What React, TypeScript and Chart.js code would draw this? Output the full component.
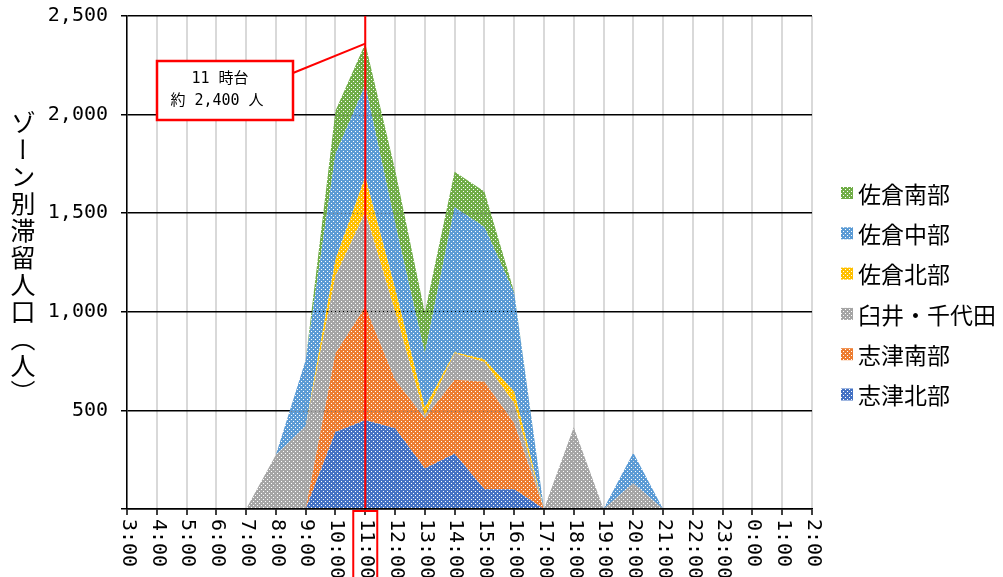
import { useEffect, useRef } from 'react';
import { Chart, registerables } from 'chart.js';

Chart.register(...registerables);

// Hour-of-day categories (3:00 through 2:00 the next day)
const hours = [
  '3:00', '4:00', '5:00', '6:00', '7:00', '8:00', '9:00', '10:00', '11:00', '12:00',
  '13:00', '14:00', '15:00', '16:00', '17:00', '18:00', '19:00', '20:00', '21:00',
  '22:00', '23:00', '0:00', '1:00', '2:00',
];

// Staying population per zone (people), stacked bottom to top
const shizuKita = [0, 0, 0, 0, 0, 0, 0, 390, 450, 410, 205, 280, 100, 100, 0, 0, 0, 0, 0, 0, 0, 0, 0, 0];
const shizuMinami = [0, 0, 0, 0, 0, 0, 0, 400, 575, 245, 255, 375, 545, 335, 0, 0, 0, 0, 0, 0, 0, 0, 0, 0];
const usuiChiyoda = [0, 0, 0, 0, 0, 275, 420, 390, 480, 345, 10, 135, 100, 100, 0, 415, 0, 130, 0, 0, 0, 0, 0, 0];
const sakuraKita = [0, 0, 0, 0, 0, 0, 0, 85, 180, 120, 45, 5, 15, 60, 0, 0, 0, 0, 0, 0, 0, 0, 0, 0];
const sakuraNaka = [0, 0, 0, 0, 0, 0, 335, 535, 465, 330, 275, 735, 670, 500, 0, 0, 0, 155, 0, 0, 0, 0, 0, 0];
const sakuraMinami = [0, 0, 0, 0, 0, 0, 0, 220, 210, 270, 205, 180, 180, 5, 0, 0, 0, 0, 0, 0, 0, 0, 0, 0];

const seriesNames = ['志津北部', '志津南部', '臼井・千代田', '佐倉北部', '佐倉中部', '佐倉南部'];
const seriesValues = [shizuKita, shizuMinami, usuiChiyoda, sakuraKita, sakuraNaka, sakuraMinami];
const seriesColors = ['#4472C4', '#ED7D31', '#A5A5A5', '#FFC000', '#5B9BD5', '#70AD47'];

// Value axis
const yTickValues = [0, 500, 1000, 1500, 2000, 2500];
const yTickLabels = ['', '500', '1,000', '1,500', '2,000', '2,500'];
const yTitle = 'ゾーン別滞留人口（人）';

// Highlighted hour and its callout caption
const peakHour = '11:00';
const peakCaption = '11 時台';

const MONO = "'DejaVu Sans Mono', 'Noto Sans CJK JP', sans-serif";
const CJK = "'Noto Sans CJK JP', sans-serif";

function makePattern(ctx: CanvasRenderingContext2D, color: string): CanvasPattern | string {
  const tile = document.createElement('canvas');
  tile.width = 4;
  tile.height = 4;
  const g = tile.getContext('2d');
  if (!g) return color;
  g.fillStyle = color;
  g.fillRect(0, 0, 4, 4);
  g.clearRect(1, 1, 1, 1);
  g.clearRect(3, 3, 1, 1);
  return ctx.createPattern(tile, 'repeat') || color;
}

export default function App() {
  const canvasRef = useRef<HTMLCanvasElement | null>(null);

  useEffect(() => {
    const canvas = canvasRef.current;
    if (!canvas) return;
    const ctx = canvas.getContext('2d');
    if (!ctx) return;

    const patterns = seriesColors.map((c) => makePattern(ctx, c));
    const peakIndex = hours.indexOf(peakHour);
    const peakTotal = seriesValues.reduce((s, arr) => s + arr[peakIndex], 0);
    const peakRounded = Math.round(peakTotal / 100) * 100;
    const peakLabel = `約 ${peakRounded.toLocaleString('en-US')} 人`;

    const overlay = {
      id: 'overlay',
      afterDatasetsDraw(chart: any) {
        const c = chart.ctx;
        const xs = chart.scales.x;
        const ys = chart.scales.y;
        const area = chart.chartArea;
        const px = xs.getPixelForValue(peakIndex);
        const py = ys.getPixelForValue(peakTotal);
        c.save();
        // vertical marker through the peak hour
        c.strokeStyle = '#FF0000';
        c.lineWidth = 2;
        c.beginPath();
        c.moveTo(px, area.top);
        c.lineTo(px, area.bottom);
        c.stroke();
        // callout connector
        c.beginPath();
        c.moveTo(293, 73);
        c.lineTo(px, py);
        c.stroke();
        // callout box
        c.fillStyle = '#FFFFFF';
        c.fillRect(157, 61, 136, 59);
        c.lineWidth = 2.5;
        c.strokeRect(157, 61, 136, 59);
        c.fillStyle = '#000000';
        c.font = `15px ${MONO}`;
        c.textAlign = 'center';
        c.textBaseline = 'middle';
        c.fillText(peakCaption, 220, 79);
        c.fillText(peakLabel, 217, 101);
        c.restore();
      },
      afterDraw(chart: any) {
        const c = chart.ctx;
        const xs = chart.scales.x;
        const area = chart.chartArea;
        c.save();
        // rotated hour labels
        c.fillStyle = '#000000';
        c.font = `20px ${MONO}`;
        c.textAlign = 'left';
        c.textBaseline = 'middle';
        hours.forEach((h, i) => {
          const x = xs.getPixelForValue(i);
          c.save();
          c.translate(x + 1, area.bottom + 10);
          c.rotate(Math.PI / 2);
          c.fillText(h, 0, 0);
          c.restore();
        });
        // frame around the highlighted hour label
        const px = xs.getPixelForValue(peakIndex);
        c.strokeStyle = '#FF0000';
        c.lineWidth = 2;
        c.strokeRect(px - 12, area.bottom + 2, 24, 80);
        // legend (top series first)
        c.font = `23px ${CJK}`;
        c.textBaseline = 'middle';
        const order = seriesNames.map((_, i) => i).reverse();
        order.forEach((si, row) => {
          const cy = 193 + row * 40.3;
          c.fillStyle = patterns[si] as any;
          c.fillRect(841, cy - 6, 12, 12);
          c.fillStyle = '#000000';
          c.fillText(seriesNames[si], 858, cy + 1);
        });
        c.restore();
      },
    };

    const chart = new Chart(ctx, {
      type: 'line',
      data: {
        labels: hours,
        datasets: seriesValues.map((vals, i) => ({
          label: seriesNames[i],
          data: vals,
          backgroundColor: patterns[i] as any,
          borderWidth: 0,
          borderColor: 'rgba(0,0,0,0)',
          pointRadius: 0,
          tension: 0,
          fill: i === 0 ? 'origin' : '-1',
        })),
      },
      options: {
        responsive: false,
        animation: false,
        events: [],
        layout: { padding: { left: 0, right: 191, top: 16, bottom: 0 } },
        plugins: {
          legend: { display: false },
          tooltip: { enabled: false },
          title: { display: false },
        },
        scales: {
          x: {
            type: 'category',
            offset: false,
            afterFit(scale: any) {
              scale.height = 68;
            },
            grid: {
              color: '#D9D9D9',
              lineWidth: 2,
              drawTicks: true,
              tickLength: 6,
              tickColor: '#000000',
              tickWidth: 1.5,
              z: -2,
            },
            border: { display: true, color: '#000000', width: 1.5, z: 1 },
            ticks: { display: false },
          },
          y: {
            stacked: true,
            min: 0,
            max: 2500,
            afterFit(scale: any) {
              scale.width = 127;
              scale.paddingTop = 0;
              scale.paddingBottom = 0;
            },
            afterBuildTicks(scale: any) {
              scale.ticks = yTickValues.map((v) => ({ value: v }));
            },
            grid: {
              color: '#000000',
              lineWidth: 1.5,
              drawTicks: true,
              tickLength: 6,
              tickColor: '#000000',
              tickWidth: 1.5,
              z: -1,
            },
            border: { display: true, color: '#000000', width: 1.5, z: 1 },
            ticks: {
              padding: 13,
              color: '#000000',
              font: { family: MONO, size: 20 },
              callback: (value: any) => {
                const idx = yTickValues.indexOf(Number(value));
                return idx >= 0 ? yTickLabels[idx] : '';
              },
            },
          },
        },
      },
      plugins: [overlay],
    });

    return () => chart.destroy();
  }, []);

  return (
    <div
      style={{
        position: 'fixed',
        left: 0,
        top: 0,
        width: 1003,
        height: 577,
        background: '#FFFFFF',
        overflow: 'hidden',
      }}
    >
      <canvas ref={canvasRef} width={1003} height={577} style={{ display: 'block' }} />
      <div
        style={{
          position: 'absolute',
          left: 10,
          top: 110,
          writingMode: 'vertical-rl',
          fontFamily: CJK,
          fontSize: 25,
          lineHeight: '25px',
          letterSpacing: '2px',
          color: '#000000',
          whiteSpace: 'nowrap',
        }}
      >
        {yTitle}
      </div>
    </div>
  );
}
